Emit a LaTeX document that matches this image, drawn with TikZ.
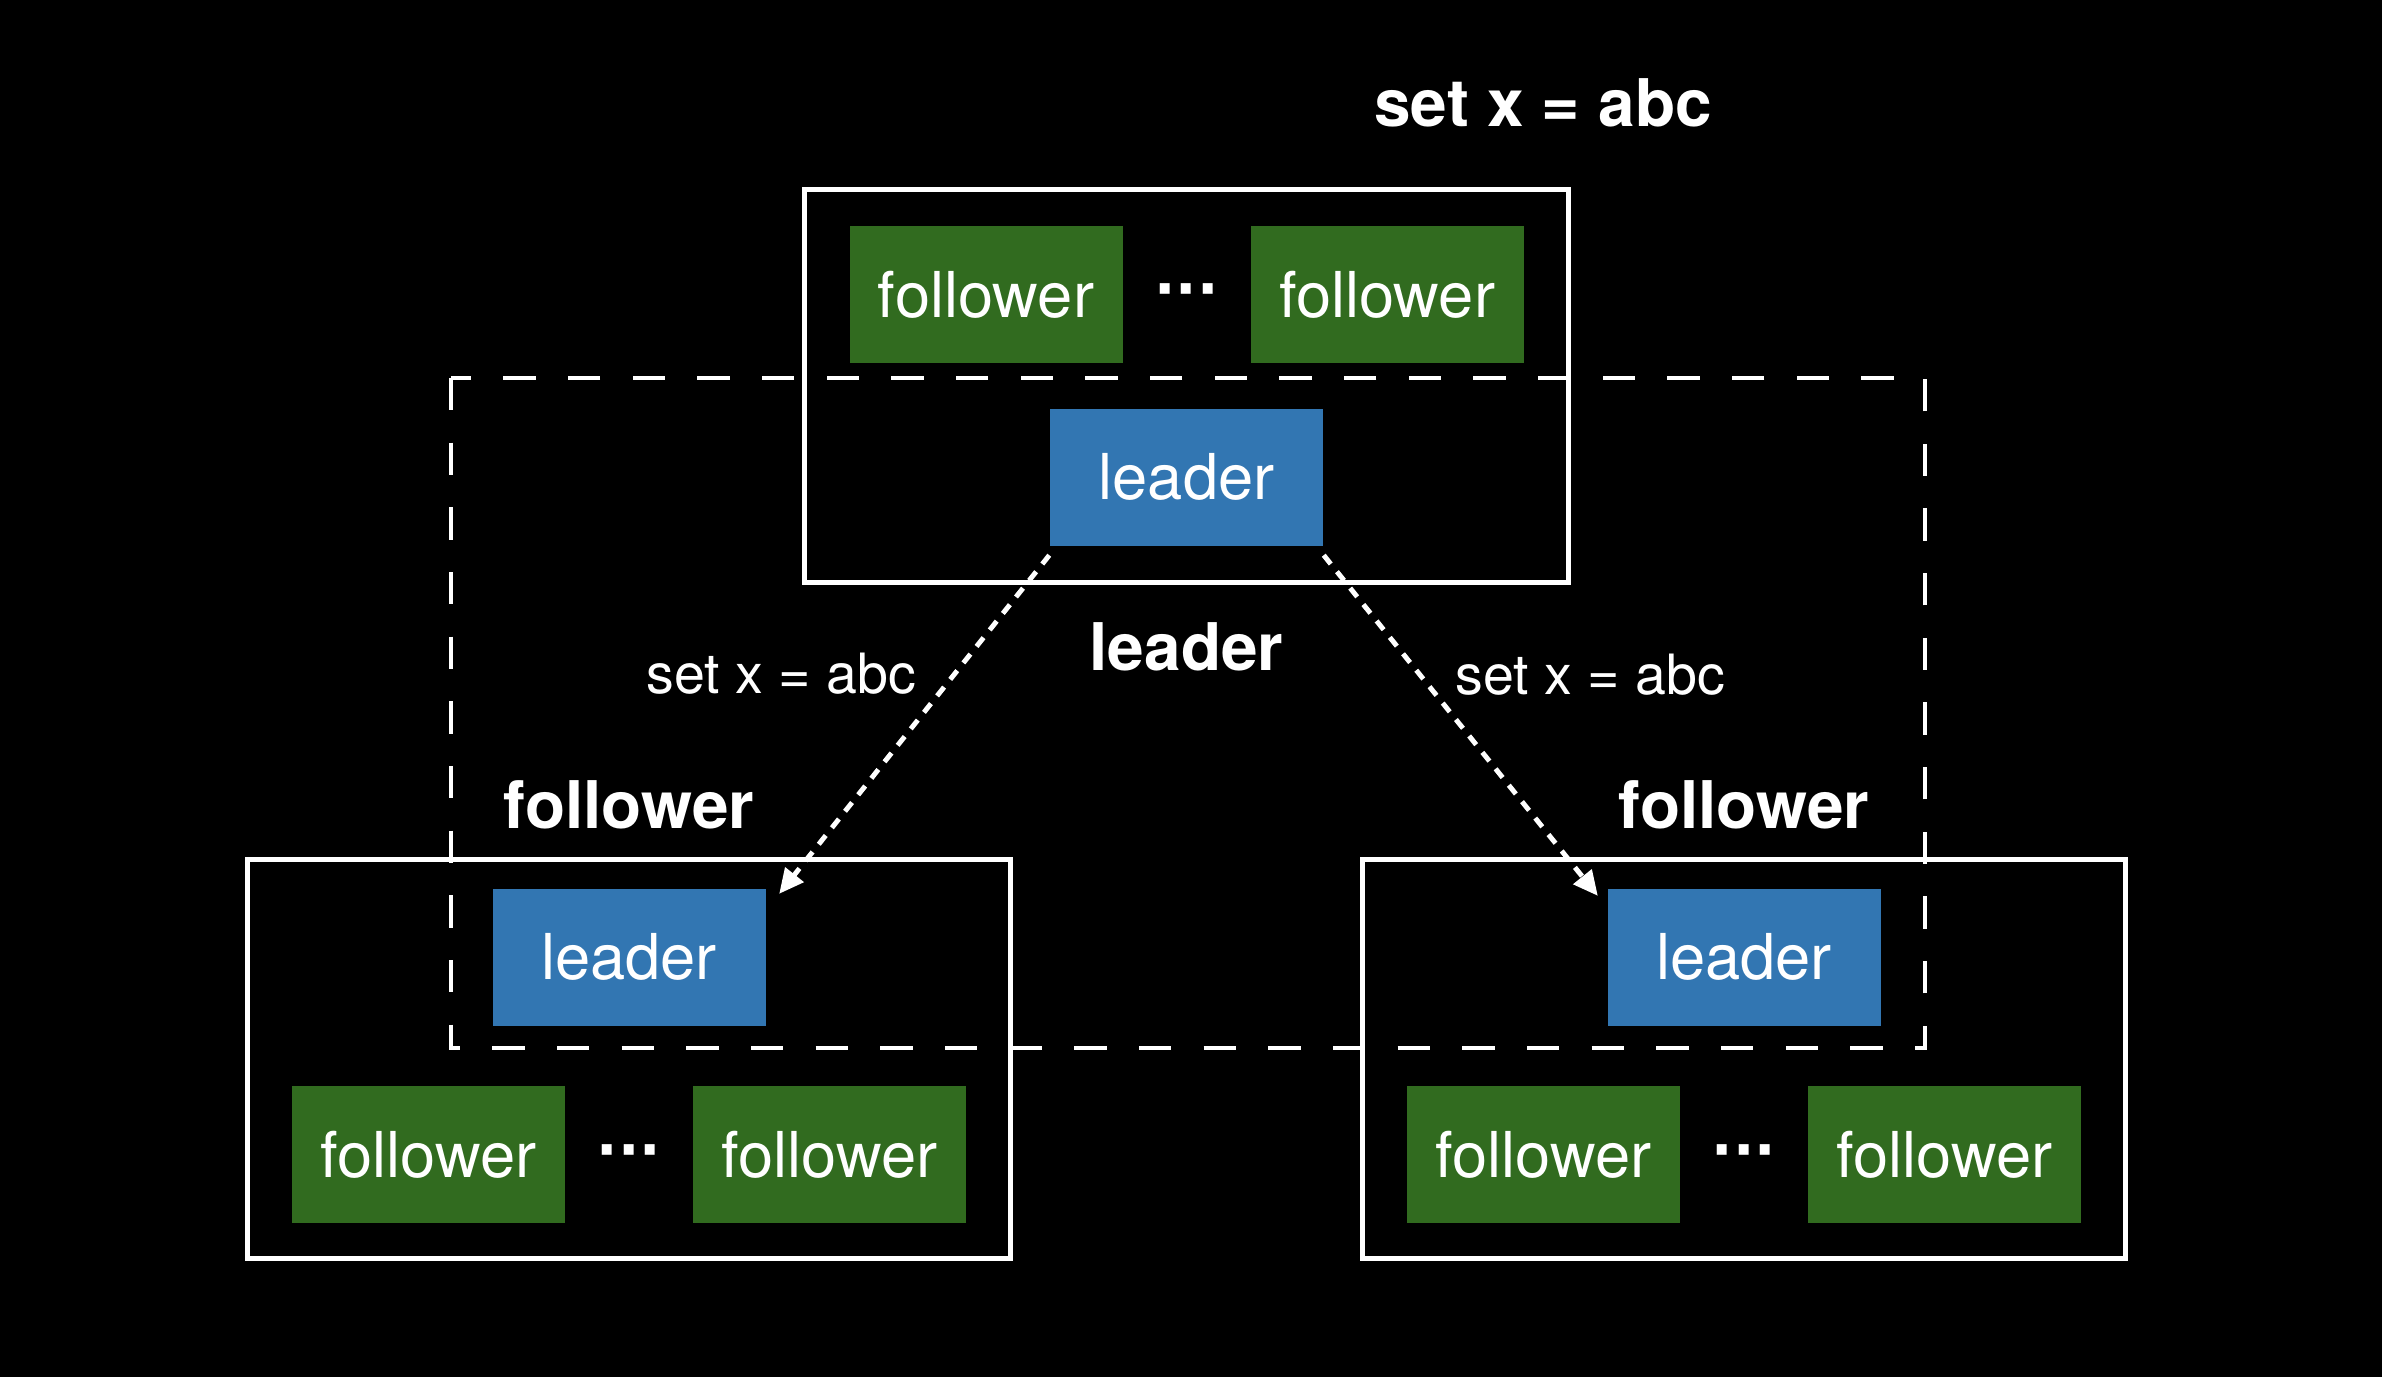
\documentclass[tikz,border=0pt]{standalone}
\usepackage{fontspec}
\setmainfont{TeX Gyre Heros}
\newfontfamily\dotfont{DejaVu Sans}
\usepackage{tikz}
\usetikzlibrary{arrows,arrows.meta}
\usetikzlibrary{positioning,fit}
\definecolor{leadblue}{RGB}{50,118,178}
\definecolor{folgreen}{RGB}{49,107,31}

\begin{document}
\begin{tikzpicture}[
 lead/.style={fill=leadblue,text=white,minimum width=2.73cm,minimum height=1.37cm,inner sep=0pt,font=\fontsize{18}{20}\selectfont},
 fol/.style={lead,fill=folgreen},
 grp/.style={draw=white,line width=1.4pt,inner xsep=.44cm,inner ysep=.36cm},
 lowgrp/.style={grp,inner ysep=.315cm,yshift=-.035cm},
 ttl/.style={text=white,inner sep=1pt,font=\fontsize{18.7}{22}\selectfont\bfseries},
 msg/.style={text=white,inner sep=1pt,font=\fontsize{15.8}{19}\selectfont},
 more/.style={text=white,inner sep=1pt,font=\dotfont\fontsize{16}{18}\selectfont\bfseries},
 arr/.style={white,line width=1.4pt,dash pattern=on 3.2pt off 2.8pt,-{Triangle[length=7pt,width=6.5pt]}}]
\useasboundingbox (0,0) rectangle (23.82,-13.76);
\fill[black] (-.2,.2) rectangle (24.02,-13.96);
\draw[white,line width=1.4pt,dash pattern=on 9.2pt off 9.2pt] (4.51,-3.78) rectangle (19.25,-10.48);
%
\fill (11.865,-4.77) node[lead] (TL) {leader};
\fill (0,0) node[fol,above of=TL,xshift=-2.005cm,yshift=.825cm] (TF1) {follower};
\fill (0,0) node[fol,above of=TL,xshift=2.005cm,yshift=.825cm] (TF2) {follower};
\fill (0,0) node[more,above of=TL,yshift=.81cm] (TD) {···};
\node[grp,fit=(TF1)(TF2)(TL)] (TB) {};
%
\fill (6.29,-9.57) node[lead] (LL) {leader};
\fill (0,0) node[fol,below of=LL,xshift=-2.005cm,yshift=-.975cm] (LF1) {follower};
\fill (0,0) node[fol,below of=LL,xshift=2.005cm,yshift=-.975cm] (LF2) {follower};
\fill (0,0) node[more,below of=LL,yshift=-1cm] (LD) {···};
\node[lowgrp,fit=(LF1)(LF2)(LL)] (LB) {};
%
\fill (17.44,-9.57) node[lead] (RL) {leader};
\fill (0,0) node[fol,below of=RL,xshift=-2.005cm,yshift=-.975cm] (RF1) {follower};
\fill (0,0) node[fol,below of=RL,xshift=2.005cm,yshift=-.975cm] (RF2) {follower};
\fill (0,0) node[more,below of=RL,yshift=-1cm] (RD) {···};
\node[lowgrp,fit=(RF1)(RF2)(RL)] (RB) {};
%
\fill (15.43,-1.03) node[ttl] (cmd) {set x = abc};
\fill (0,0) node[ttl,below of=TL,yshift=-.7cm] (TLab) {leader};
\fill (0,0) node[ttl,above of=LL,yshift=.52cm] (LLab) {follower};
\fill (0,0) node[ttl,above of=RL,yshift=.52cm] (RLab) {follower};
%
\path ([yshift=-.09cm]TL.south west) edge[arr] node[msg,pos=.35,left,xshift=-.325cm]{set x = abc} ([xshift=.13cm,yshift=-.06cm]LL.north east);
\path ([yshift=-.09cm]TL.south east) edge[arr] node[msg,pos=.35,right,xshift=.3cm]{set x = abc} ([xshift=-.09cm,yshift=-.08cm]RL.north west);
\end{tikzpicture}
\end{document}
